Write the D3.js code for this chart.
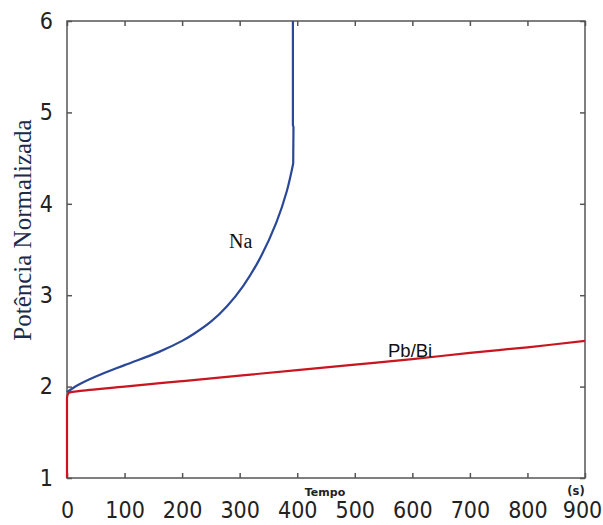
<!DOCTYPE html>
<html>
<head>
<meta charset="utf-8">
<script src="https://cdn.jsdelivr.net/npm/d3@7"></script>
<style>
  html, body { margin: 0; padding: 0; background: #fff; }
  svg { display: block; }
  .tick-label { font-family: "DejaVu Sans Condensed", "DejaVu Sans", sans-serif; font-stretch: condensed; font-size: 23px; fill: #222; }
</style>
</head>
<body>
<svg id="chart" width="603" height="525"></svg>
<script>
// Normalised power after the transient, for two coolants
const naTime   = [0, 20, 50, 100, 160, 200, 220, 250, 278, 306, 335, 364, 382, 393, 393.5, 392.5, 392.5];
const naPower  = [1.94, 2.02, 2.11, 2.235, 2.38, 2.50, 2.575, 2.71, 2.88, 3.10, 3.40, 3.80, 4.14, 4.44, 4.84, 4.86, 6.0];

const pbTime   = [0, 0, 3, 20, 100, 200, 300, 400, 500, 600, 700, 800, 900];
const pbPower  = [1.0, 1.88, 1.93, 1.95, 2.00, 2.06, 2.12, 2.18, 2.24, 2.30, 2.37, 2.43, 2.50];

const xTicks = [0, 100, 200, 300, 400, 500, 600, 700, 800, 900];
const yTicks = [1, 2, 3, 4, 5, 6];

const seriesNames = ["Na", "Pb/Bi"];
const axisTitles = { x: "Tempo", xUnit: "(s)", y: "Potência Normalizada" };

const svg = d3.select("#chart");
const plotLeft = 67, plotRight = 585, plotTop = 21, plotBottom = 478;

const x = d3.scaleLinear().domain([0, 900]).range([plotLeft, plotRight]);
const y = d3.scaleLinear().domain([1, 6]).range([plotBottom, plotTop]);

const frameColor = "#555";

// Frame
svg.append("rect")
  .attr("x", plotLeft).attr("y", plotTop)
  .attr("width", plotRight - plotLeft).attr("height", plotBottom - plotTop)
  .attr("fill", "none").attr("stroke", frameColor).attr("stroke-width", 1.5);

// Axes with inward ticks
function styleAxis(g) {
  g.select(".domain").remove();
  g.selectAll(".tick line").attr("stroke", frameColor).attr("stroke-width", 1.5);
}

const fmt = d3.format("d");

const bottomAxis = d3.axisBottom(x).tickValues(xTicks).tickFormat(fmt)
  .tickSizeInner(-5).tickSizeOuter(0).tickPadding(24);
svg.append("g").attr("transform", `translate(0,${plotBottom})`).call(bottomAxis).call(styleAxis)
  .call(g => g.attr("font-size", null).attr("font-family", null))
  .selectAll("text").attr("class", "tick-label")
  .attr("dx", d => d === xTicks[xTicks.length - 1] ? -3 : 0);

const leftAxis = d3.axisLeft(y).tickValues(yTicks).tickFormat(fmt)
  .tickSizeInner(-5).tickSizeOuter(0).tickPadding(14);
svg.append("g").attr("transform", `translate(${plotLeft},0)`).call(leftAxis).call(styleAxis)
  .call(g => g.attr("font-size", null).attr("font-family", null))
  .selectAll("text").attr("class", "tick-label");

const topAxis = d3.axisTop(x).tickValues(xTicks).tickSizeInner(-5).tickSizeOuter(0).tickFormat("");
svg.append("g").attr("transform", `translate(0,${plotTop})`).call(topAxis).call(styleAxis);

const rightAxis = d3.axisRight(y).tickValues(yTicks).tickSizeInner(-5).tickSizeOuter(0).tickFormat("");
svg.append("g").attr("transform", `translate(${plotRight},0)`).call(rightAxis).call(styleAxis);

// Curves
const smooth = d3.line().x(d => x(d[0])).y(d => y(d[1])).curve(d3.curveCatmullRom.alpha(0.5));
const straight = d3.line().x(d => x(d[0])).y(d => y(d[1]));

const naData = naTime.map((t, i) => [t, naPower[i]]);
const pbData = pbTime.map((t, i) => [t, pbPower[i]]);

// Na: smooth rise, then a near-vertical excursion
svg.append("path")
  .datum(naData)
  .attr("fill", "none")
  .attr("stroke", "#2a4897")
  .attr("stroke-width", 2.2)
  .attr("stroke-linejoin", "round")
  .attr("d", d => smooth(d.slice(0, 14)) + straight(d.slice(13)).replace("M", "L"));

// Pb/Bi: vertical start, then slow rise
svg.append("path")
  .datum(pbData)
  .attr("fill", "none")
  .attr("stroke", "#c8151f")
  .attr("stroke-width", 2.2)
  .attr("stroke-linejoin", "round")
  .attr("d", d => straight(d.slice(0, 2)) + smooth(d.slice(1)).replace("M", "L"));

// Series labels
svg.append("text")
  .attr("x", 229).attr("y", 248)
  .attr("font-family", "'Liberation Serif', 'Times New Roman', serif")
  .attr("font-size", 20).attr("fill", "#111")
  .text(seriesNames[0]);

svg.append("text")
  .attr("x", 388).attr("y", 357)
  .attr("font-family", "'Liberation Sans', Arial, sans-serif")
  .attr("font-size", 18.5).attr("fill", "#111")
  .text(seriesNames[1]);

// Axis titles
svg.append("text")
  .attr("x", 325).attr("y", 496)
  .attr("text-anchor", "middle")
  .attr("font-family", "'DejaVu Sans', sans-serif")
  .attr("font-weight", "bold").attr("font-size", 11).attr("fill", "#222")
  .text(axisTitles.x);

svg.append("text")
  .attr("x", 576).attr("y", 495)
  .attr("text-anchor", "middle")
  .attr("font-family", "'DejaVu Sans', sans-serif")
  .attr("font-weight", "bold").attr("font-size", 11.5).attr("fill", "#222")
  .text(axisTitles.xUnit);

svg.append("text")
  .attr("transform", "translate(31,230) rotate(-90)")
  .attr("text-anchor", "middle")
  .attr("font-family", "'Liberation Serif', 'Times New Roman', serif")
  .attr("font-size", 25).attr("fill", "#1b2b48")
  .text(axisTitles.y);
</script>
</body>
</html>
